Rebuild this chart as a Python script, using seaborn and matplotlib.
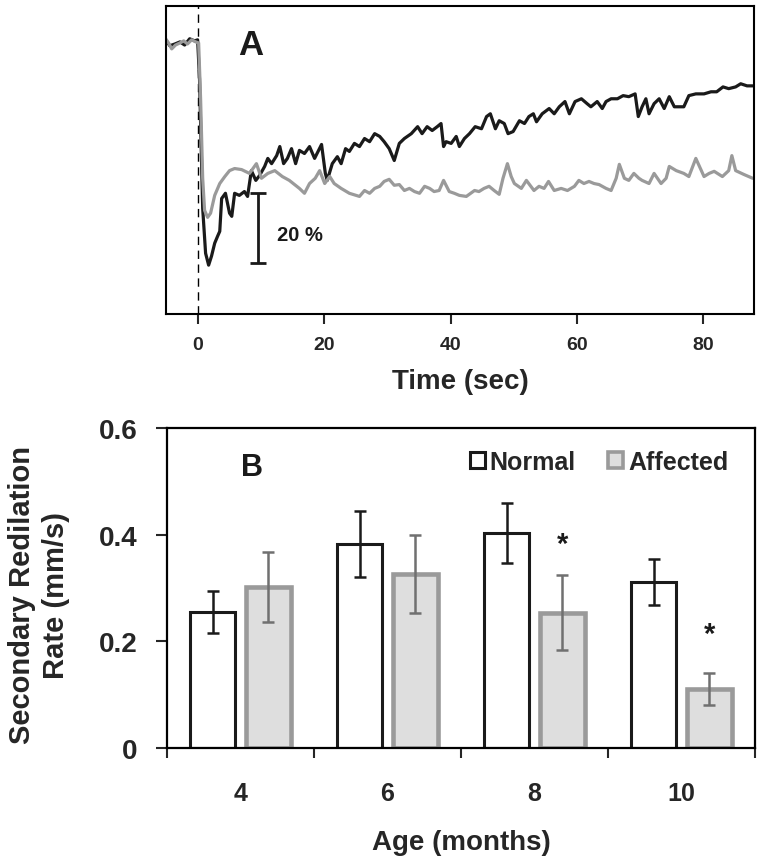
import matplotlib
matplotlib.use('Agg')
import matplotlib.pyplot as plt
from matplotlib.patches import Patch
from matplotlib.ticker import FixedLocator
import seaborn as sns
import pandas as pd

# ---- data: panel A, pupil traces (% of baseline) ----
black_t = [-5.06, -4.4, -3.6, -2.8, -2.05, -1.26, -0.47, 0.0,
           0.3, 0.8, 1.26, 1.74, 2.2, 2.7, 3.16, 3.5, 3.8, 4.4,
           5.05, 5.4, 5.85, 6.6, 7.4, 7.9, 8.5, 9.2, 9.8, 10.6,
           11.1, 11.7, 12.5, 13.0, 13.6, 14.2, 14.85, 15.5, 16.1, 16.9,
           17.7, 18.5, 19.6, 20.2, 20.5, 21.3, 22.1, 22.7, 23.4, 24.0,
           24.8, 25.6, 26.4, 27.2, 28.0, 28.8, 29.5, 30.3, 31.1, 31.9,
           32.7, 33.8, 34.8, 35.5, 36.3, 37.1, 37.9, 38.5, 38.9, 39.3,
           40.1, 40.9, 41.4, 42.2, 43.0, 43.9, 44.9, 45.7, 46.3, 47.1,
           47.7, 48.5, 49.1, 49.9, 50.9, 51.7, 52.4, 53.1, 53.6, 54.5,
           55.6, 56.4, 57.2, 58.1, 58.8, 59.7, 60.7, 61.6, 62.2, 63.2,
           64.0, 64.6, 65.4, 66.4, 67.3, 68.2, 69.2, 69.7, 70.3, 70.9,
           71.4, 72.2, 73.0, 73.8, 74.6, 75.4, 76.1, 76.9, 77.7, 78.8,
           80.1, 81.2, 82.1, 83.1, 84.0, 85.1, 85.9, 86.9, 87.8]
black_v = [100.6, 98.9, 99.4, 100.0, 99.1, 100.9, 100.3, 100.6,
           89.4, 52.3, 39.4, 36.0, 38.6, 42.3, 44.3, 45.7, 55.1, 56.6,
           50.9, 50.0, 56.6, 56.0, 57.1, 55.7, 63.1, 60.3, 61.7, 64.3,
           66.6, 65.1, 67.4, 70.0, 65.1, 66.6, 69.4, 65.1, 68.9, 68.0,
           70.0, 66.6, 70.6, 62.3, 60.3, 65.1, 67.1, 65.1, 69.4, 68.6,
           70.9, 70.0, 72.3, 71.4, 73.7, 72.9, 71.4, 69.4, 66.0, 70.9,
           72.3, 73.7, 75.7, 73.7, 75.7, 74.6, 75.7, 76.6, 70.0, 71.4,
           70.9, 72.9, 70.0, 72.3, 73.7, 75.7, 75.1, 78.6, 79.4, 75.1,
           77.4, 76.6, 73.7, 74.3, 77.4, 76.6, 78.6, 79.4, 77.1, 79.4,
           80.9, 79.4, 81.4, 82.9, 79.4, 82.9, 83.7, 82.3, 81.4, 82.9,
           80.9, 82.9, 83.7, 83.7, 84.6, 84.3, 85.1, 78.6, 81.4, 83.7,
           79.4, 82.3, 83.7, 80.9, 84.3, 81.4, 81.4, 81.4, 84.6, 85.1,
           85.1, 85.7, 85.7, 87.1, 86.6, 87.1, 88.0, 87.4, 87.4]

gray_t = [-5.06, -4.6, -4.1, -3.5, -2.8, -2.2, -1.6, -0.95, -0.3, 0.16,
          0.47, 0.8, 1.1, 1.58, 2.05, 2.7, 3.5, 4.3, 5.05, 5.85,
          6.95, 8.2, 9.3, 10.1, 11.1, 12.2, 13.4, 14.5, 16.1, 16.9,
          17.7, 18.6, 19.3, 20.1, 20.9, 21.6, 22.7, 24.0, 25.6, 26.4,
          27.2, 28.0, 28.8, 29.5, 30.3, 31.1, 31.9, 32.7, 33.5, 34.3,
          35.1, 35.9, 36.7, 37.4, 38.2, 38.9, 39.8, 40.6, 41.4, 42.5,
          43.8, 44.5, 45.3, 46.1, 46.9, 47.7, 48.3, 49.0, 49.6, 50.1,
          51.2, 52.0, 53.2, 54.0, 54.8, 55.5, 56.4, 57.5, 58.5, 59.6,
          60.3, 61.1, 61.9, 62.7, 63.5, 64.6, 65.4, 66.2, 66.7, 67.5,
          68.2, 69.0, 69.8, 70.3, 71.4, 72.2, 73.3, 74.1, 74.6, 75.7,
          76.9, 77.7, 78.8, 80.1, 80.9, 81.7, 83.0, 84.0, 84.5, 85.1,
          86.4, 87.8]
gray_v = [100.9, 99.7, 98.0, 99.1, 99.7, 100.3, 99.4, 100.6, 100.0, 99.7,
          83.7, 60.9, 51.7, 49.7, 50.9, 56.0, 59.4, 61.4, 63.1, 63.7,
          63.4, 62.3, 65.1, 60.9, 62.3, 63.1, 61.4, 60.3, 58.0, 56.6,
          59.4, 60.9, 63.1, 59.4, 61.4, 59.4, 58.0, 56.6, 55.7, 57.4,
          56.6, 58.0, 58.6, 60.0, 60.6, 58.9, 59.1, 57.4, 58.0, 57.1,
          56.6, 58.6, 58.0, 57.1, 57.4, 60.3, 57.1, 56.6, 56.0, 55.7,
          57.4, 57.1, 58.0, 58.6, 57.4, 56.3, 60.9, 65.1, 61.4, 59.4,
          58.0, 60.3, 57.4, 58.6, 58.0, 60.0, 57.4, 58.0, 57.4, 58.6,
          60.3, 59.4, 60.0, 59.4, 59.1, 58.0, 57.4, 60.9, 64.9, 60.9,
          60.3, 62.3, 60.9, 60.3, 59.4, 62.3, 59.4, 60.9, 64.3, 63.1,
          62.3, 61.4, 66.6, 61.4, 62.3, 62.9, 61.4, 63.1, 67.4, 63.1,
          62.0, 60.9]

time_ticks = [0, 20, 40, 60, 80]

# ---- data: panel B, secondary redilation rate ----
ages = ['4', '6', '8', '10']
normal_mean = [0.255, 0.382, 0.403, 0.311]
normal_err = [0.040, 0.062, 0.056, 0.043]
affected_mean = [0.302, 0.326, 0.254, 0.110]
affected_err = [0.066, 0.073, 0.070, 0.030]
rate_ticks = [0, 0.2, 0.4, 0.6]
rate_labels = ['0', '0.2', '0.4', '0.6']

BLACK = '#1a1a1a'
GRAY = '#9a9a9a'
FILL = '#dedede'

sns.set_style('white')
plt.rcParams['font.family'] = ['Liberation Sans', 'DejaVu Sans']
plt.rcParams['font.weight'] = 'bold'
plt.rcParams['axes.labelweight'] = 'bold'

fig = plt.figure(figsize=(7.64, 8.62), dpi=100)
ax1 = fig.add_axes([0.2173, 0.6346, 0.7696, 0.3573])
ax2 = fig.add_axes([0.2186, 0.1311, 0.7696, 0.3712])

# ---------------- panel A ----------------
traces = pd.concat([
    pd.DataFrame({'Time': black_t, 'Change': black_v, 'Group': 'Normal'}),
    pd.DataFrame({'Time': gray_t, 'Change': gray_v, 'Group': 'Affected'}),
])
sns.lineplot(data=traces, x='Time', y='Change', hue='Group',
             hue_order=['Normal', 'Affected'],
             palette={'Normal': BLACK, 'Affected': GRAY},
             linewidth=2.3, estimator=None, sort=False, legend=False, ax=ax1)
ax1.axvline(0, color='black', lw=1.0, ls=(0, (6, 4)), zorder=0)

ax1.set_xlim(-5, 88)
ax1.set_ylim(22, 110.3)
ax1.set_yticks([])
ax1.set_xticks(time_ticks)
ax1.tick_params(axis='x', direction='out', length=7, width=1.5, pad=9,
                labelsize=14, bottom=True)
ax1.set_xlabel('Time (sec)', fontsize=20, fontweight='bold', labelpad=11)
ax1.set_ylabel('')
for s in ax1.spines.values():
    s.set_color('black')
    s.set_linewidth(1.5)

# 20 % scale bar
bar_x, bar_mid, bar_half = 9.6, 46.6, 10
ax1.errorbar([bar_x], [bar_mid], yerr=[bar_half], fmt='none', ecolor=BLACK,
             elinewidth=2, capsize=6, capthick=2)
ax1.text(12.5, 44.9, '20 %', fontsize=14.5, fontweight='bold',
         ha='left', va='center', color=BLACK)
ax1.text(8.4, 99.4, 'A', fontsize=25, fontweight='bold',
         ha='center', va='center', color=BLACK)

# ---------------- panel B ----------------
bars = pd.concat([
    pd.DataFrame({'Age': ages, 'Rate': normal_mean, 'Group': 'Normal'}),
    pd.DataFrame({'Age': ages, 'Rate': affected_mean, 'Group': 'Affected'}),
])
sns.barplot(data=bars, x='Age', y='Rate', hue='Group', order=ages,
            hue_order=['Normal', 'Affected'],
            palette={'Normal': 'white', 'Affected': FILL},
            width=0.76, gap=0.2, errorbar=None, legend=False, ax=ax2)

styles = [('white', BLACK, 2.2, normal_mean, normal_err, BLACK),
          (FILL, GRAY, 3.3, affected_mean, affected_err, '#707070')]
for cont, (fc, ec, lw, means, errs, errc) in zip(ax2.containers, styles):
    xs = []
    for p in cont.patches:
        p.set_facecolor(fc)
        p.set_edgecolor(ec)
        p.set_linewidth(lw)
        xs.append(p.get_x() + p.get_width() / 2)
    ax2.errorbar(xs, means, yerr=errs, fmt='none', ecolor=errc,
                 elinewidth=1.8, capsize=4.5, capthick=1.8, zorder=5)

ax2.set_xlim(-0.5, 3.5)
ax2.set_ylim(0, 0.6)
ax2.set_yticks(rate_ticks)
ax2.set_yticklabels(rate_labels)
ax2.tick_params(axis='y', direction='out', length=8, width=1.5, pad=13,
                labelsize=20, left=True)
ax2.xaxis.set_minor_locator(FixedLocator([-0.5, 0.5, 1.5, 2.5, 3.5]))
ax2.tick_params(axis='x', which='major', length=0, pad=24, labelsize=18)
ax2.tick_params(axis='x', which='minor', direction='out', length=7,
                width=1.5, bottom=True)
for lab in ax2.get_xticklabels() + ax2.get_yticklabels():
    lab.set_fontweight('bold')
ax2.set_xlabel('Age (months)', fontsize=20, fontweight='bold', labelpad=17)
ax2.set_ylabel('Secondary Redilation\nRate (mm/s)', fontsize=21,
               fontweight='bold', linespacing=1.25)
ax2.yaxis.set_label_coords(-0.165, 0.48)
for s in ax2.spines.values():
    s.set_color('black')
    s.set_linewidth(1.6)

handles = [Patch(facecolor='white', edgecolor=BLACK, linewidth=2.2),
           Patch(facecolor=FILL, edgecolor=GRAY, linewidth=2.6)]
ax2.legend(handles, ['Normal', 'Affected'], ncol=2, frameon=False,
           loc='center right', bbox_to_anchor=(0.955, 0.894),
           borderaxespad=0, borderpad=0, handlelength=0.6, handleheight=0.6,
           handletextpad=0.2, columnspacing=1.3,
           prop={'size': 18, 'weight': 'bold'})

ax2.text(0.08, 0.527, 'B', fontsize=22, fontweight='bold',
         ha='center', va='center', color=BLACK)
ax2.text(2.19, 0.3675, '*', fontsize=21, fontweight='bold',
         ha='center', va='baseline', color=BLACK)
ax2.text(3.19, 0.199, '*', fontsize=21, fontweight='bold',
         ha='center', va='baseline', color=BLACK)

fig.savefig('out.png', dpi=100)
